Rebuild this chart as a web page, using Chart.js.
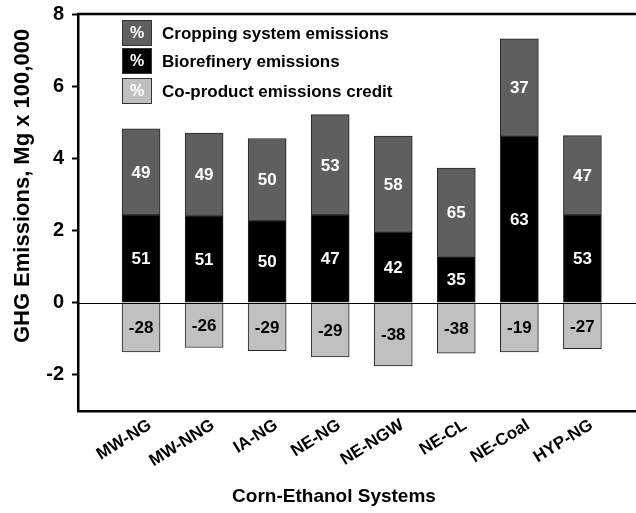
<!DOCTYPE html>
<html>
<head>
<meta charset="utf-8">
<script src="https://cdn.jsdelivr.net/npm/chart.js@4"></script>
<style>
html,body{margin:0;padding:0;background:#fff;}
#wrap{width:636px;height:513px;}
</style>
</head>
<body>
<div id="wrap"><canvas id="c" width="636" height="513"></canvas></div>
<script>
const categories = ['MW-NG','MW-NNG','IA-NG','NE-NG','NE-NGW','NE-CL','NE-Coal','HYP-NG'];
const biorefinery = [2.43,2.40,2.27,2.43,1.95,1.28,4.61,2.43];
const cropping = [2.39,2.30,2.28,2.78,2.67,2.45,2.70,2.20];
const coproduct = [-1.36,-1.24,-1.33,-1.50,-1.75,-1.40,-1.36,-1.27];
const croppingPct = [49,49,50,53,58,65,37,47];
const biorefineryPct = [51,51,50,47,42,35,63,53];
const coproductPct = [-28,-26,-29,-29,-38,-38,-19,-27];
const yTicks = [-2,0,2,4,6,8];
const legendLabels = ['Cropping system emissions','Biorefinery emissions','Co-product emissions credit'];

const FONT = '"Liberation Sans", Arial, sans-serif';
const colors = {crop:'#5f5f5f', bio:'#000000', co:'#c0c0c0'};

const toXY = arr => arr.map((v,i)=>({x:i, y:v}));

const labelPlugin = {
  id:'segLabels',
  afterDatasetsDraw(chart){
    const ctx = chart.ctx;
    ctx.save();
    ctx.font = 'bold 17px ' + FONT;
    ctx.textAlign = 'center';
    ctx.textBaseline = 'middle';
    chart.data.datasets.forEach((ds,di)=>{
      const meta = chart.getDatasetMeta(di);
      meta.data.forEach((el,i)=>{
        const y = (el.y + el.base)/2;
        ctx.fillStyle = ds.labelColor;
        ctx.fillText(String(ds.pct[i]), el.x, y+1);
      });
    });
    ctx.restore();
  },
  afterDraw(chart){
    const ctx = chart.ctx;
    const ca = chart.chartArea;
    const ys = chart.scales.y;
    ctx.save();
    ctx.strokeStyle = '#000';
    ctx.lineWidth = 1;
    const y0 = Math.round(ys.getPixelForValue(0)) + 0.5;
    ctx.beginPath(); ctx.moveTo(ca.left, y0); ctx.lineTo(ca.right, y0); ctx.stroke();
    ctx.lineWidth = 2.5;
    const yt = ys.getPixelForValue(8);
    ctx.beginPath(); ctx.moveTo(ca.left-1, yt); ctx.lineTo(ca.right, yt); ctx.stroke();
    const boxes = [colors.crop, colors.bio, colors.co];
    const tops = [20, 48, 78];
    boxes.forEach((c,k)=>{
      const bx = 122, by = tops[k], bw = 30, bh = 26;
      ctx.fillStyle = c;
      ctx.fillRect(bx, by, bw, bh);
      ctx.strokeStyle = '#333';
      ctx.lineWidth = 1;
      ctx.strokeRect(bx+0.5, by+0.5, bw-1, bh-1);
      ctx.fillStyle = '#fff';
      ctx.font = 'bold 16px ' + FONT;
      ctx.textAlign = 'center';
      ctx.textBaseline = 'middle';
      ctx.fillText('%', bx+bw/2, by+bh/2+1);
      ctx.fillStyle = '#000';
      ctx.font = 'bold 17px ' + FONT;
      ctx.textAlign = 'left';
      ctx.fillText(legendLabels[k], 162, by+bh/2+1);
    });
    ctx.fillStyle = '#000';
    ctx.font = 'bold 19px ' + FONT;
    ctx.textAlign = 'center';
    ctx.textBaseline = 'middle';
    ctx.fillText('Corn-Ethanol Systems', 334, 497);
    ctx.font = 'bold 22px ' + FONT;
    ctx.translate(23, 186);
    ctx.rotate(-Math.PI/2);
    ctx.fillText('GHG Emissions, Mg x 100,000', 0, 0);
    ctx.restore();
  }
};

const common = {borderColor:'#262626', borderWidth:1, borderSkipped:false, barThickness:38};

new Chart(document.getElementById('c'), {
  type:'bar',
  data:{
    datasets:[
      Object.assign({label:legendLabels[1], data:toXY(biorefinery), backgroundColor:colors.bio, pct:biorefineryPct, labelColor:'#fff'}, common),
      Object.assign({label:legendLabels[0], data:toXY(cropping), backgroundColor:colors.crop, pct:croppingPct, labelColor:'#fff'}, common),
      Object.assign({label:legendLabels[2], data:toXY(coproduct), backgroundColor:colors.co, pct:coproductPct, labelColor:'#000'}, common)
    ]
  },
  options:{
    responsive:false,
    animation:false,
    layout:{padding:{top:14,left:0,right:0,bottom:0}},
    plugins:{legend:{display:false}, tooltip:{enabled:false}},
    scales:{
      x:{
        type:'linear', stacked:true, min:-1, max:7.85, offset:false,
        afterBuildTicks(s){ s.ticks = categories.map((c,i)=>({value:i})); },
        afterFit(s){ s.height = 102; s.paddingLeft = 0; s.paddingRight = 0; },
        grid:{display:false, drawTicks:false, offset:false},
        border:{display:true, color:'#000', width:2.5},
        ticks:{
          autoSkip:false, minRotation:32, maxRotation:32, padding:4, labelOffset:9, color:'#000',
          font:{family:FONT, size:17, weight:'bold'},
          callback:(v)=>categories[v] !== undefined ? categories[v] : ''
        }
      },
      y:{
        stacked:true, min:-3, max:8,
        afterBuildTicks(s){ s.ticks = yTicks.map(v=>({value:v})); },
        afterFit(s){ s.width = 78; s.paddingTop = 0; s.paddingBottom = 0; },
        grid:{drawOnChartArea:false, drawTicks:true, tickLength:6, tickColor:'#000', tickWidth:2},
        border:{display:true, color:'#000', width:2.5},
        ticks:{color:'#000', padding:8, font:{family:FONT, size:20, weight:'bold'}}
      }
    }
  },
  plugins:[labelPlugin]
});
</script>
</body>
</html>
